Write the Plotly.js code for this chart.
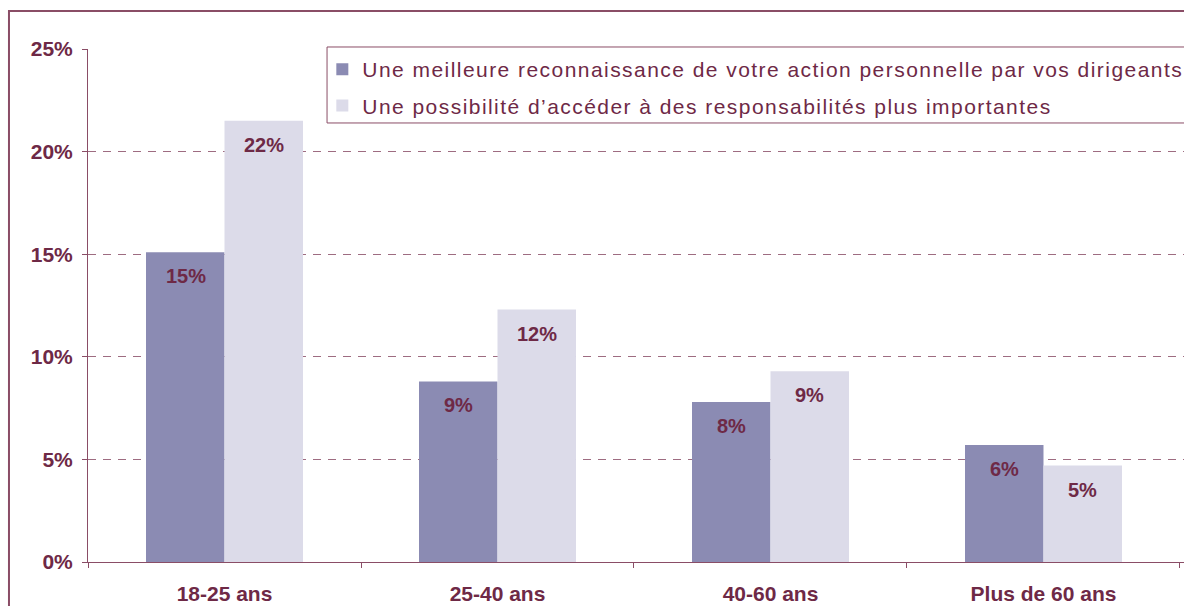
<!DOCTYPE html>
<html>
<head>
<meta charset="utf-8">
<script src="https://cdn.plot.ly/plotly-3.0.1.min.js"></script>
<style>
html,body{margin:0;padding:0;background:#fff;}
#chart{width:1184px;height:606px;}
.legendtext{letter-spacing:1.45px;}
</style>
</head>
<body>
<div id="chart"></div>
<script>
const categories = ["18-25 ans", "25-40 ans", "40-60 ans", "Plus de 60 ans"];
const seriesNames = [
  "Une meilleure reconnaissance de votre action personnelle par vos dirigeants",
  "Une possibilité d\u2019accéder à des responsabilités plus importantes"
];
const reconnaissance = [15.1, 8.8, 7.8, 5.7];
const responsabilites = [21.5, 12.3, 9.3, 4.7];
const reconnaissanceLabels = ["15%", "9%", "8%", "6%"];
const responsabilitesLabels = ["22%", "12%", "9%", "5%"];
const yTicks = [0, 5, 10, 15, 20, 25];
const yTickLabels = ["0%", "5%", "10%", "15%", "20%", "25%"];

const maroon = "#6E2946";
const axisColor = "#8A4D66";
const font = "Arial, 'Liberation Sans', sans-serif";

const common = {
  type: "bar",
  x: categories,
  textposition: "none",
  hoverinfo: "none"
};

const traces = [
  Object.assign({}, common, {
    name: seriesNames[0], y: reconnaissance,
    marker: {color: "#8B8BB3"}, legendgroup: "a"
  }),
  Object.assign({}, common, {
    name: seriesNames[1], y: responsabilites,
    marker: {color: "#DCDBE9"}, legendgroup: "b"
  })
];

// value labels, placed from the data through the axes (offset to each bar of the group)
const annotations = [];
function addLabels(values, labels, shift) {
  values.forEach((v, i) => {
    annotations.push({
      x: categories[i], y: v, xref: "x", yref: "y",
      text: labels[i], showarrow: false,
      xshift: shift, yshift: -24, yanchor: "middle", xanchor: "center",
      font: {family: font, size: 20, color: maroon, weight: "bold"}
    });
  });
}
addLabels(reconnaissance, reconnaissanceLabels, -39);
addLabels(responsabilites, responsabilitesLabels, 39);

const layout = {
  width: 1184, height: 606,
  margin: {l: 88, r: 0, t: 49, b: 44, pad: 0, autoexpand: false},
  paper_bgcolor: "#fff", plot_bgcolor: "#fff",
  barmode: "group", bargap: 0.425, bargroupgap: 0,
  font: {family: font, color: maroon},
  showlegend: true,
  legend: {
    x: 0.2138, xanchor: "left", y: 1.0, yanchor: "top",
    bgcolor: "rgba(0,0,0,0)", borderwidth: 0,
    font: {family: font, size: 21, color: maroon},
    traceorder: "grouped", tracegroupgap: 6,
    itemwidth: 30, entrywidth: 700
  },
  xaxis: {
    type: "category", tickson: "boundaries",
    range: [-0.5, 3.5147],
    ticks: "outside", ticklen: 5, tickcolor: axisColor,
    showline: true, linecolor: axisColor, linewidth: 1,
    showgrid: false, zeroline: false,
    tickfont: {family: font, size: 21, color: maroon, weight: "bold"},
    ticklabelstandoff: 13,
    fixedrange: true
  },
  yaxis: {
    range: [0, 25], tickvals: yTicks, ticktext: yTickLabels,
    ticks: "outside", ticklen: 5, tickcolor: axisColor,
    showline: true, linecolor: axisColor, linewidth: 1,
    showgrid: true, gridcolor: "#9E6C81", gridwidth: 1, griddash: "8px,7px",
    zeroline: false,
    tickfont: {family: font, size: 21, color: maroon, weight: "bold"},
    ticklabelstandoff: 5,
    fixedrange: true
  },
  annotations: annotations,
  shapes: [
    {
      type: "rect", xref: "paper", yref: "paper",
      x0: -0.0721, x1: 1.3, y0: -0.3, y1: 1.074,
      line: {color: axisColor, width: 2}, fillcolor: "rgba(0,0,0,0)", layer: "below"
    },
    {
      type: "rect", xref: "paper", yref: "paper",
      x0: 0.2181, x1: 1.3, y0: 0.8558, y1: 1.0039,
      line: {color: axisColor, width: 1}, fillcolor: "#fff", layer: "above"
    }
  ]
};

Plotly.newPlot("chart", traces, layout, {displayModeBar: false, staticPlot: true});
</script>
</body>
</html>
